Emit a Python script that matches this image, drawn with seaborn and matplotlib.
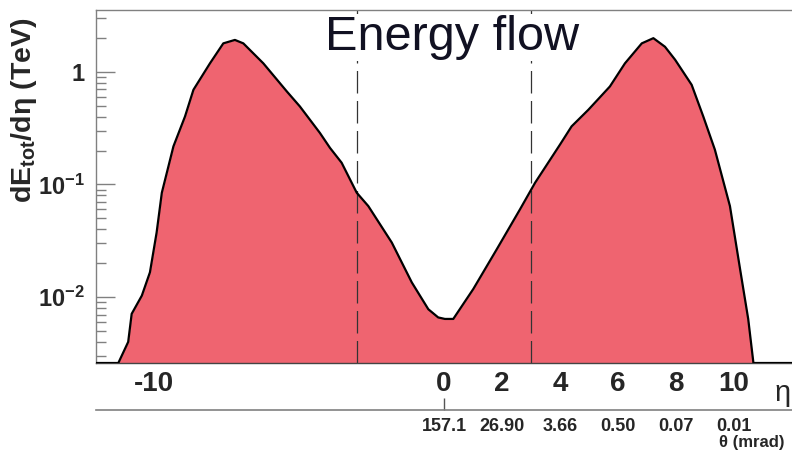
import numpy as np
import pandas as pd
import matplotlib
matplotlib.use('Agg')
import matplotlib.pyplot as plt
import seaborn as sns
from matplotlib.ticker import FixedLocator, LogLocator, NullFormatter

# ---------------- data ----------------
eta = [-12.0, -11.23, -10.89, -10.77, -10.42, -10.14, -9.91, -9.73, -9.33, -8.93,
       -8.64, -8.07, -7.61, -7.21, -6.92, -6.23, -5.42, -4.97, -4.28, -3.93,
       -3.53, -3.01, -2.61, -1.80, -1.11, -0.54, -0.20, 0.03, 0.32, 1.01,
       1.82, 2.62, 3.14, 4.00, 4.40, 4.98, 5.72, 6.24, 6.82, 7.22,
       7.62, 7.97, 8.54, 8.94, 9.34, 9.86, 10.21, 10.49, 10.67, 12.0]
dE_deta = [0, 0, 0.0040, 0.0071, 0.0103, 0.0166, 0.0374, 0.0845, 0.218, 0.402,
           0.693, 1.19, 1.79, 1.92, 1.79, 1.19, 0.67, 0.493, 0.287, 0.211,
           0.156, 0.0845, 0.0643, 0.0305, 0.0135, 0.0078, 0.0066, 0.0064, 0.0064, 0.0118,
           0.0266, 0.0601, 0.1035, 0.226, 0.328, 0.461, 0.741, 1.19, 1.79, 1.99,
           1.67, 1.28, 0.767, 0.402, 0.204, 0.0643, 0.0177, 0.0064, 0, 0]

x_tick_values = [-10, 0, 2, 4, 6, 8, 10]
x_tick_labels = ['-10', '0', '2', '4', '6', '8', '10']
x_minor_ticks = [-8, -6, -4, -2]
theta_positions = [0, 2, 4, 6, 8, 10]
theta_labels = ['157.1', '26.90', '3.66', '0.50', '0.07', '0.01']
cut_lines = [-3, 3]
y_ticks = [1e-2, 1e-1, 1]
y_tick_labels = [r'$\mathbf{10^{-2}}$', r'$\mathbf{10^{-1}}$', '1']

# ---------------- style ----------------
sns.set_theme(style='white')
plt.rcParams['font.family'] = ['Liberation Sans', 'DejaVu Sans']
plt.rcParams['mathtext.fontset'] = 'custom'
plt.rcParams['mathtext.rm'] = 'Liberation Sans'
plt.rcParams['mathtext.bf'] = 'Liberation Sans:bold'
plt.rcParams['mathtext.it'] = 'Liberation Sans:italic'

W, H = 792, 455
fig = plt.figure(figsize=(W / 100, H / 100), dpi=100)
ax = fig.add_axes([96 / W, 1 - 363 / H, 696 / W, 353 / H])

ymin, ymax = 0.0026, 3.54
df = pd.DataFrame({'eta': eta, 'dE': np.maximum(np.array(dE_deta, dtype=float), ymin)})

ax.fill_between(df['eta'], ymin, df['dE'], color='#ef6470', lw=0, zorder=1)
sns.lineplot(data=df, x='eta', y='dE', ax=ax, color='black', lw=1.6,
             sort=False, estimator=None, zorder=3)
for c in cut_lines:
    ax.axvline(c, color='#333333', lw=0.9, ls=(0, (18, 6)), zorder=2)

ax.set_yscale('log')
ax.set_xlim(-12, 12)
ax.set_ylim(ymin, ymax)
ax.set_xlabel('')
ax.set_ylabel('')

# y ticks
ax.yaxis.set_major_locator(FixedLocator(y_ticks))
ax.set_yticklabels(y_tick_labels, fontsize=17, fontweight='bold')
ax.yaxis.set_minor_locator(LogLocator(base=10, subs=np.arange(2, 10), numticks=20))
ax.yaxis.set_minor_formatter(NullFormatter())
ax.tick_params(axis='y', which='major', direction='in', length=14, width=1,
               color='#808080', pad=8, left=True)
ax.tick_params(axis='y', which='minor', direction='in', length=7, width=1,
               color='#808080', left=True)

# x ticks
ax.set_xticks(x_tick_values)
ax.set_xticklabels(x_tick_labels, fontsize=20, fontweight='bold')
ax.xaxis.set_minor_locator(FixedLocator(x_minor_ticks))
ax.tick_params(axis='x', which='major', direction='in', length=8.6, width=1,
               color='#555555', pad=6, bottom=True)
ax.tick_params(axis='x', which='minor', direction='in', length=5, width=1,
               color='#555555', bottom=True)
for v, t in zip(x_tick_values, ax.xaxis.get_major_ticks()):
    if v not in (-10, 0, 10):
        t.tick1line.set_markersize(5)

for s in ['left', 'top']:
    ax.spines[s].set_color('#808080')
    ax.spines[s].set_linewidth(1)
ax.spines['bottom'].set_color('#444444')
ax.spines['bottom'].set_linewidth(1)
ax.spines['right'].set_visible(False)

# secondary theta axis
secax = ax.secondary_xaxis(-47 / 353)
secax.set_xticks(theta_positions)
secax.set_xticklabels(theta_labels, fontsize=13, fontweight='bold')
secax.tick_params(direction='in', length=8.6, width=1, color='#555555', pad=6)
secax.spines['bottom'].set_color('#808080')
secax.spines['bottom'].set_linewidth(1.2)
for i, t in enumerate(secax.xaxis.get_major_ticks()):
    if i > 0:
        t.tick1line.set_visible(False)

# texts
fig.text(452 / W, 1 - 50 / H, 'Energy flow', fontsize=35, color='#111122',
         ha='center', va='baseline', zorder=10,
         bbox=dict(fc='white', ec='none', boxstyle='square,pad=0.02'))
fig.text(24 / W, 1 - 110 / H, r'dE$_{\mathbf{tot}}$/dη (TeV)', rotation=90,
         fontsize=20.5, fontweight='bold', ha='center', va='center')
fig.text(783 / W, 1 - 393 / H, 'η', fontsize=21, ha='center', va='center')
fig.text(752 / W, 1 - 442 / H, 'θ (mrad)', fontsize=12, fontweight='bold',
         ha='center', va='center')

fig.savefig('out.png', dpi=100)
